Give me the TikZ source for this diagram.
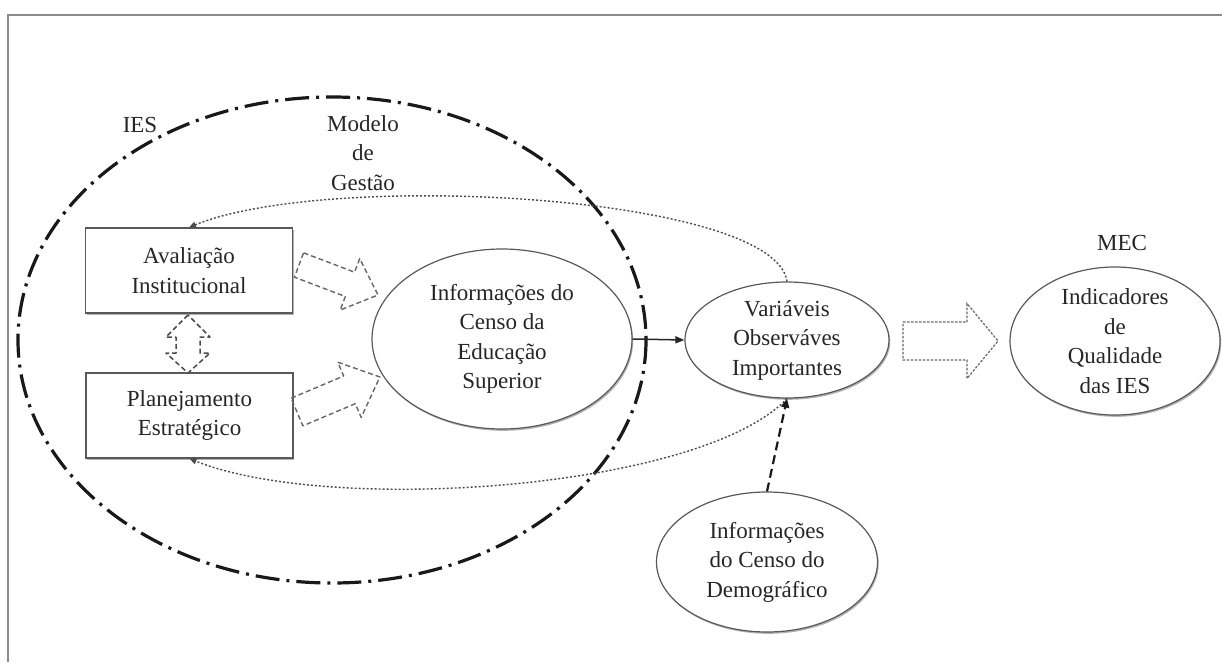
\documentclass[tikz,border=0pt]{standalone}
\usepackage{fontspec}
\setmainfont{Liberation Serif}
\usetikzlibrary{shapes.geometric,shadows,arrows.meta}

% hollow block arrow: style, tail point, angle, length, half shaft, half head, head length
\newcommand\hollowarrow[7]{%
  \begin{scope}[shift={#2}, rotate=#3]
    \draw[#1] (0,-#5) -- ({#4-#7},-#5) -- ({#4-#7},-#6) -- (#4,0)
      -- ({#4-#7},#6) -- ({#4-#7},#5) -- (0,#5) -- cycle;
  \end{scope}}

\begin{document}
\begin{tikzpicture}[x=1pt,y=-1pt,
  txt/.style={font=\fontsize{23}{29.5}\selectfont, text=black!85, align=center},
  softshadow/.style={drop shadow={shadow xshift=1.2pt, shadow yshift=-1.8pt, opacity=.3, fill=black}},
  box/.style={txt, draw=black!65, line width=1.3pt, fill=white, inner sep=0pt,
    minimum width=207pt, minimum height=85pt, softshadow},
  oval/.style={txt, ellipse, draw=black!65, line width=1.2pt, fill=white, inner sep=0pt, softshadow},
  boundary/.style={draw=black!90, line width=3.2pt, dash pattern=on 24pt off 7pt on 3pt off 7pt},
  blockarr/.style={draw=black!60, line width=1.4pt, dash pattern=on 5pt off 3pt, line join=round},
  fineblock/.style={draw=black!60, line width=1.2pt, dash pattern=on 2.5pt off 1.5pt},
  dotarrow/.style={draw=black!70, line width=1.4pt, dash pattern=on 2pt off 2pt,
    -{Triangle[length=7pt,width=6pt]}},
  solidarrow/.style={draw=black!85, line width=1.5pt, -{Triangle[length=9pt,width=7pt]}},
  dasharrow/.style={draw=black!90, line width=2.2pt, dash pattern=on 9pt off 5pt,
    -{Triangle[length=9pt,width=8pt]}}
]
\useasboundingbox (0,0) rectangle (1222,662);

% outer frame (top and left edges)
\draw[black!45, line width=2pt] (8,662) -- (8,15) -- (1222,15);

% institution boundary
\draw[boundary] (332,340) ellipse [x radius=314, y radius=243];

% labels
\node[txt] (ies) at (140,125) {IES};
\node[txt] (modelo) at (363,153) {Modelo\\de\\Gestão};
\node[txt] (mec) at (1122,243) {MEC};

% boxes and ovals
\node[box] (avl) at (189,270.5) {Avaliação\\Institucional};
\node[box] (plan) at (189.5,415.5) {Planejamento\\Estratégico};
\node[oval, minimum width=260pt, minimum height=180pt] (info) at (502,339)
  {Informações do\\Censo da\\Educação\\Superior};
\node[oval, minimum width=204pt, minimum height=116pt] (var) at (787,340)
  {Variáveis\\Observáves\\Importantes};
\node[oval, minimum width=210pt, minimum height=137pt] (ind) at (1115,341)
  {Indicadores\\de\\Qualidade\\das IES};
\node[oval, minimum width=221pt, minimum height=140pt] (demo) at (767,562)
  {Informações\\do Censo do\\Demográfico};

% hollow block arrows
\hollowarrow{blockarr}{(299,265)}{-20.8}{84.5}{13}{27.5}{30}
\hollowarrow{blockarr}{(297,412)}{22.9}{90}{15}{30}{33}
\hollowarrow{fineblock}{(903,341)}{0}{95}{19}{37.5}{31}
\draw[blockarr, draw=black!70, line width=1.5pt]
  (188,315) -- (166,337) -- (176,337) -- (176,353) -- (166,353) -- (188,373)
  -- (210,353) -- (200,353) -- (200,337) -- (210,337) -- cycle;

% connectors
\draw[solidarrow] (info.east) -- (var.west);
\draw[dasharrow] (demo.north) -- (var.south);
\draw[dotarrow] (var.north) .. controls (775,195) and (330,170) .. (avl.north);
\draw[dotarrow] (var.south) .. controls (700,490) and (330,515) .. (plan.south);
\end{tikzpicture}
\end{document}
